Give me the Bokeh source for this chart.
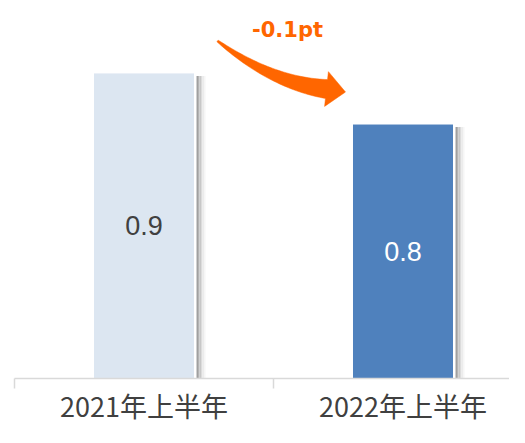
import numpy as np
from bokeh.plotting import figure
from bokeh.models import Range1d, FixedTicker, ColumnDataSource
from bokeh.core.properties import value
from bokeh.embed import file_html
from bokeh.resources import INLINE

# ---- data ----
categories = ["2021年上半年", "2022年上半年"]
values = [0.9, 0.8]
bar_colors = ["#DCE6F1", "#4F81BD"]
label_colors = ["#404040", "#FFFFFF"]
change_label = f"{values[1] - values[0]:+.1f}pt"

# ---- layout ----
BL = 14
FW, FH = 495, 378
UNIT_PX = 259.0
XS = 0.0
XE = XS + FW / UNIT_PX
SY = 511.0
YS = 0.302
YE = YS + FH / SY
BAR_W = 0.39
ORANGE = "#FF6600"
xc = [i + 0.5 for i in range(len(categories))]

sx = FW / (XE - XS)
sy = FH / (YE - YS)


def to_px(x, y):
    return (x - XS) * sx, (YE - y) * sy


def to_data(px, py):
    return XS + px / sx, YE - py / sy


p = figure(frame_width=FW, frame_height=FH, output_backend="svg",
           toolbar_location=None,
           x_range=Range1d(XS, XE), y_range=Range1d(YS, YE),
           min_border_left=BL, min_border_right=0, min_border_top=0,
           min_border_bottom=0)
p.outline_line_color = None
p.grid.visible = False
p.yaxis.visible = False
p.background_fill_color = "white"
p.border_fill_color = "white"

# soft shadows (gradient strips right of each bar)
shade_cols = ["#A0A0A0", "#B4B4B4", "#C8C8C8", "#DCDCDC", "#ECECEC", "#F6F6F6"]
for i, c in enumerate(shade_cols):
    left = [x + BAR_W / 2 + (2 + 1.5 * i) / sx for x in xc]
    right = [x + BAR_W / 2 + (3.5 + 1.5 * i) / sx for x in xc]
    top = [v - 3 / sy for v in values]
    p.quad(left=left, right=right, top=top, bottom=YS - 1, color=c, line_color=None)

src = ColumnDataSource(dict(x=xc, top=values, color=bar_colors,
                            ly=[(v + YS) / 2 for v in values],
                            label=[f"{v:.1f}" for v in values],
                            lcolor=label_colors))
p.vbar(x="x", top="top", bottom=0, width=BAR_W, fill_color="color",
       line_color="white", line_width=1, source=src)
p.text(x="x", y="ly", text="label", text_color="lcolor", source=src,
       text_align="center", text_baseline="middle",
       text_font=value("Liberation Sans"), text_font_size="27px")

# curved arrow from bar 1 toward bar 2
tail = to_px(xc[0] + BAR_W / 2 + 23 / sx, values[0] + 32 / sy)
tip = to_px(xc[1] - BAR_W / 2 - 7 / sx, values[1] + 32 / sy)
T = np.array(tail)
Q = np.array(tip)
B = Q + np.array([-19.0, -3.0])
C = np.array([T[0] + 0.5 * (B[0] - T[0]), B[1] - 6.0])
t = np.linspace(0, 1, 40)
P = ((1 - t) ** 2)[:, None] * T + (2 * (1 - t) * t)[:, None] * C + (t ** 2)[:, None] * B
D = (2 * (1 - t))[:, None] * (C - T) + (2 * t)[:, None] * (B - C)
D = D / np.linalg.norm(D, axis=1)[:, None]
N = np.stack([-D[:, 1], D[:, 0]], axis=1)
half = (1.0 + 8.5 * t ** 0.9)[:, None]
upper = P - N * half
lower = P + N * half
nend = N[-1]
head_top = B - nend * 17.5
head_bot = B + nend * 17.5
poly = np.vstack([upper, head_top[None, :], Q[None, :], head_bot[None, :], lower[::-1]])
ax, ay = zip(*[to_data(px, py) for px, py in poly])
p.patch(list(ax), list(ay), fill_color=ORANGE, line_color=ORANGE, line_width=0.5)

tx, ty = to_data(T[0] + 70, T[1] - 10.5)
p.text(x=[tx], y=[ty], text=[change_label], text_color=ORANGE,
       text_align="center", text_baseline="alphabetic",
       text_font=value("DejaVu Sans"), text_font_style="bold",
       text_font_size="21px")

# x axis with category boundaries as ticks
xa = p.xaxis[0]
xa.ticker = FixedTicker(ticks=xc, minor_ticks=list(range(len(categories) + 1)))
xa.major_label_overrides = {x: c for x, c in zip(xc, categories)}
xa.axis_line_color = "#D9D9D9"
xa.axis_line_width = 1.5
xa.major_tick_line_color = None
xa.major_tick_out = 0
xa.major_tick_in = 0
xa.minor_tick_line_color = "#D9D9D9"
xa.minor_tick_line_width = 1.5
xa.minor_tick_out = 10
xa.minor_tick_in = 0
xa.major_label_standoff = -3
xa.major_label_text_font = "Noto Sans CJK SC"
xa.major_label_text_font_size = "27px"
xa.major_label_text_color = "#404040"

open("out.html", "w").write(file_html(p, INLINE))
